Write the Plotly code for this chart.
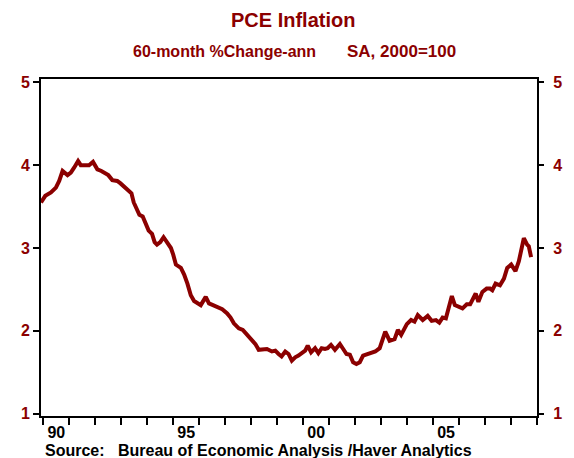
import plotly.graph_objects as go

# ---- data (decimal year, 60-month annualised % change) ----
years = [1989.912, 1990.077, 1990.295, 1990.486, 1990.612, 1990.742, 1990.933, 1991.060, 1991.186,
         1991.339, 1991.442, 1991.634, 1991.760, 1991.913, 1992.081, 1992.234, 1992.399, 1992.502,
         1992.655, 1992.846, 1992.972, 1993.099, 1993.267, 1993.393, 1993.481, 1993.585, 1993.699,
         1993.826, 1993.929, 1994.055, 1994.185, 1994.285, 1994.376, 1994.503, 1994.629, 1994.782,
         1994.912, 1995.000, 1995.103, 1995.295, 1995.421, 1995.547, 1995.677, 1995.804, 1995.930,
         1996.060, 1996.251, 1996.377, 1996.530, 1996.695, 1996.886, 1997.077, 1997.207, 1997.334,
         1997.525, 1997.678, 1997.804, 1997.972, 1998.164, 1998.290, 1998.481, 1998.608, 1998.799,
         1998.929, 1999.055, 1999.170, 1999.311, 1999.438, 1999.564, 1999.694, 1999.820, 1999.973,
         2000.077, 2000.176, 2000.306, 2000.459, 2000.585, 2000.712, 2000.842, 2000.941, 2001.071,
         2001.224, 2001.415, 2001.542, 2001.668, 2001.798, 2001.924, 2002.051, 2002.180, 2002.307,
         2002.471, 2002.624, 2002.777, 2002.946, 2003.072, 2003.160, 2003.328, 2003.519, 2003.646,
         2003.772, 2003.990, 2004.155, 2004.285, 2004.411, 2004.602, 2004.794, 2004.947, 2005.111,
         2005.241, 2005.367, 2005.494, 2005.624, 2005.723, 2005.838, 2006.006, 2006.133, 2006.297,
         2006.427, 2006.641, 2006.745, 2006.898, 2007.062, 2007.192, 2007.280, 2007.406, 2007.575,
         2007.728, 2007.854, 2008.007, 2008.171, 2008.302, 2008.390, 2008.493, 2008.619, 2008.684,
         2008.772]
pce = [3.55, 3.63, 3.67, 3.73, 3.81, 3.93, 3.88, 3.91, 3.97,
       4.05, 4.00, 4.00, 4.00, 4.04, 3.95, 3.93, 3.90, 3.88,
       3.82, 3.81, 3.78, 3.74, 3.69, 3.66, 3.55, 3.47, 3.40,
       3.38, 3.31, 3.21, 3.17, 3.07, 3.04, 3.07, 3.13, 3.06,
       3.00, 2.92, 2.80, 2.76, 2.68, 2.57, 2.43, 2.36, 2.34,
       2.31, 2.41, 2.33, 2.31, 2.29, 2.26, 2.21, 2.16, 2.09,
       2.03, 2.01, 1.97, 1.91, 1.84, 1.77, 1.77, 1.78, 1.75,
       1.76, 1.72, 1.69, 1.75, 1.72, 1.64, 1.68, 1.70, 1.74,
       1.76, 1.82, 1.74, 1.79, 1.73, 1.79, 1.78, 1.79, 1.83,
       1.77, 1.84, 1.78, 1.72, 1.71, 1.62, 1.60, 1.62, 1.70,
       1.72, 1.74, 1.75, 1.79, 1.90, 1.99, 1.88, 1.90, 2.01,
       1.95, 2.08, 2.13, 2.11, 2.19, 2.13, 2.18, 2.12, 2.13,
       2.10, 2.16, 2.15, 2.31, 2.42, 2.31, 2.29, 2.27, 2.32,
       2.32, 2.45, 2.35, 2.47, 2.51, 2.51, 2.49, 2.57, 2.55,
       2.63, 2.76, 2.80, 2.72, 2.84, 3.00, 3.12, 3.04, 3.02,
       2.89]

x_tick_vals = [1990.5, 1995.5, 2000.5, 2005.5]
x_tick_text = ["90", "95", "00", "05"]
y_tick_vals = [1, 2, 3, 4, 5]
y_tick_text = ["1", "2", "3", "4", "5"]

title_text = "PCE Inflation"
subtitle_left = "60-month %Change-ann"
subtitle_right = "SA, 2000=100"
source_label = "Source:"
source_text = "Bureau of Economic Analysis /Haver Analytics"

# ---- styling / layout (page pixels; page body adds an 8px offset) ----
RED = "#8b0000"
OFF = 8
W, H = 574 - OFF, 458 - OFF
ML = 41 - OFF
MT = 79 - OFF
MR = W - (540 - OFF)
MB = H - (416 - OFF)
FONT = "Liberation Sans, Arial, sans-serif"


def px_x(px):
    return (px - OFF - ML) / (W - ML - MR)


def px_y(py):
    return (H - MB - (py - OFF)) / (H - MT - MB)


fig = go.Figure()
fig.add_trace(go.Scatter(x=years, y=pce, mode="lines",
                         line=dict(color=RED, width=4), showlegend=False,
                         hoverinfo="skip"))
fig.add_trace(go.Scatter(x=years[:1], y=pce[:1], mode="lines", yaxis="y2",
                         line=dict(color="rgba(0,0,0,0)", width=0),
                         showlegend=False, hoverinfo="skip"))

yrange = [0.971, 5.041]
fig.update_layout(
    width=W, height=H,
    margin=dict(l=ML, r=MR, t=MT, b=MB, pad=0),
    paper_bgcolor="white", plot_bgcolor="white",
    xaxis=dict(
        range=[1989.912, 2009.0],
        tickmode="array", tickvals=x_tick_vals, ticktext=x_tick_text,
        ticks="outside", ticklen=1, tickcolor="rgba(0,0,0,0)",
        tickfont=dict(family=FONT, size=16, color="black", weight="bold"),
        showgrid=False, zeroline=False,
        showline=True, linecolor="black", linewidth=2, mirror=True,
        minor=dict(tickmode="linear", tick0=1990, dtick=1, ticks="outside",
                   ticklen=7, tickwidth=2, tickcolor="black", showgrid=False),
    ),
    yaxis=dict(
        range=yrange,
        tickmode="array", tickvals=y_tick_vals, ticktext=y_tick_text,
        ticks="outside", ticklen=6, tickwidth=2, tickcolor="black",
        tickfont=dict(family=FONT, size=16, color=RED, weight="bold"),
        showgrid=False, zeroline=False,
        showline=True, linecolor="black", linewidth=2, mirror=True,
    ),
    yaxis2=dict(
        range=yrange, overlaying="y", side="right",
        tickmode="array", tickvals=y_tick_vals, ticktext=y_tick_text,
        ticks="outside", ticklen=6, tickwidth=2, tickcolor="black",
        ticklabelstandoff=6,
        tickfont=dict(family=FONT, size=16, color=RED, weight="bold"),
        showgrid=False, zeroline=False, showline=False,
    ),
    annotations=[
        dict(text=title_text, xref="paper", yref="paper", x=px_x(295), y=px_y(20),
             xanchor="center", yanchor="middle", showarrow=False,
             font=dict(family=FONT, size=20, color=RED, weight="bold")),
        dict(text=subtitle_left, xref="paper", yref="paper", x=px_x(132), y=px_y(51),
             xanchor="left", yanchor="middle", showarrow=False,
             font=dict(family=FONT, size=16, color=RED, weight="bold")),
        dict(text=subtitle_right, xref="paper", yref="paper", x=px_x(347), y=px_y(51),
             xanchor="left", yanchor="middle", showarrow=False,
             font=dict(family=FONT, size=17, color=RED, weight="bold")),
        dict(text=source_label, xref="paper", yref="paper", x=px_x(43), y=px_y(450),
             xanchor="left", yanchor="middle", showarrow=False,
             font=dict(family=FONT, size=16, color="black", weight="bold")),
        dict(text=source_text, xref="paper", yref="paper", x=px_x(116), y=px_y(450),
             xanchor="left", yanchor="middle", showarrow=False,
             font=dict(family=FONT, size=16, color="black", weight="bold")),
    ],
)

fig.write_html("out.html")
